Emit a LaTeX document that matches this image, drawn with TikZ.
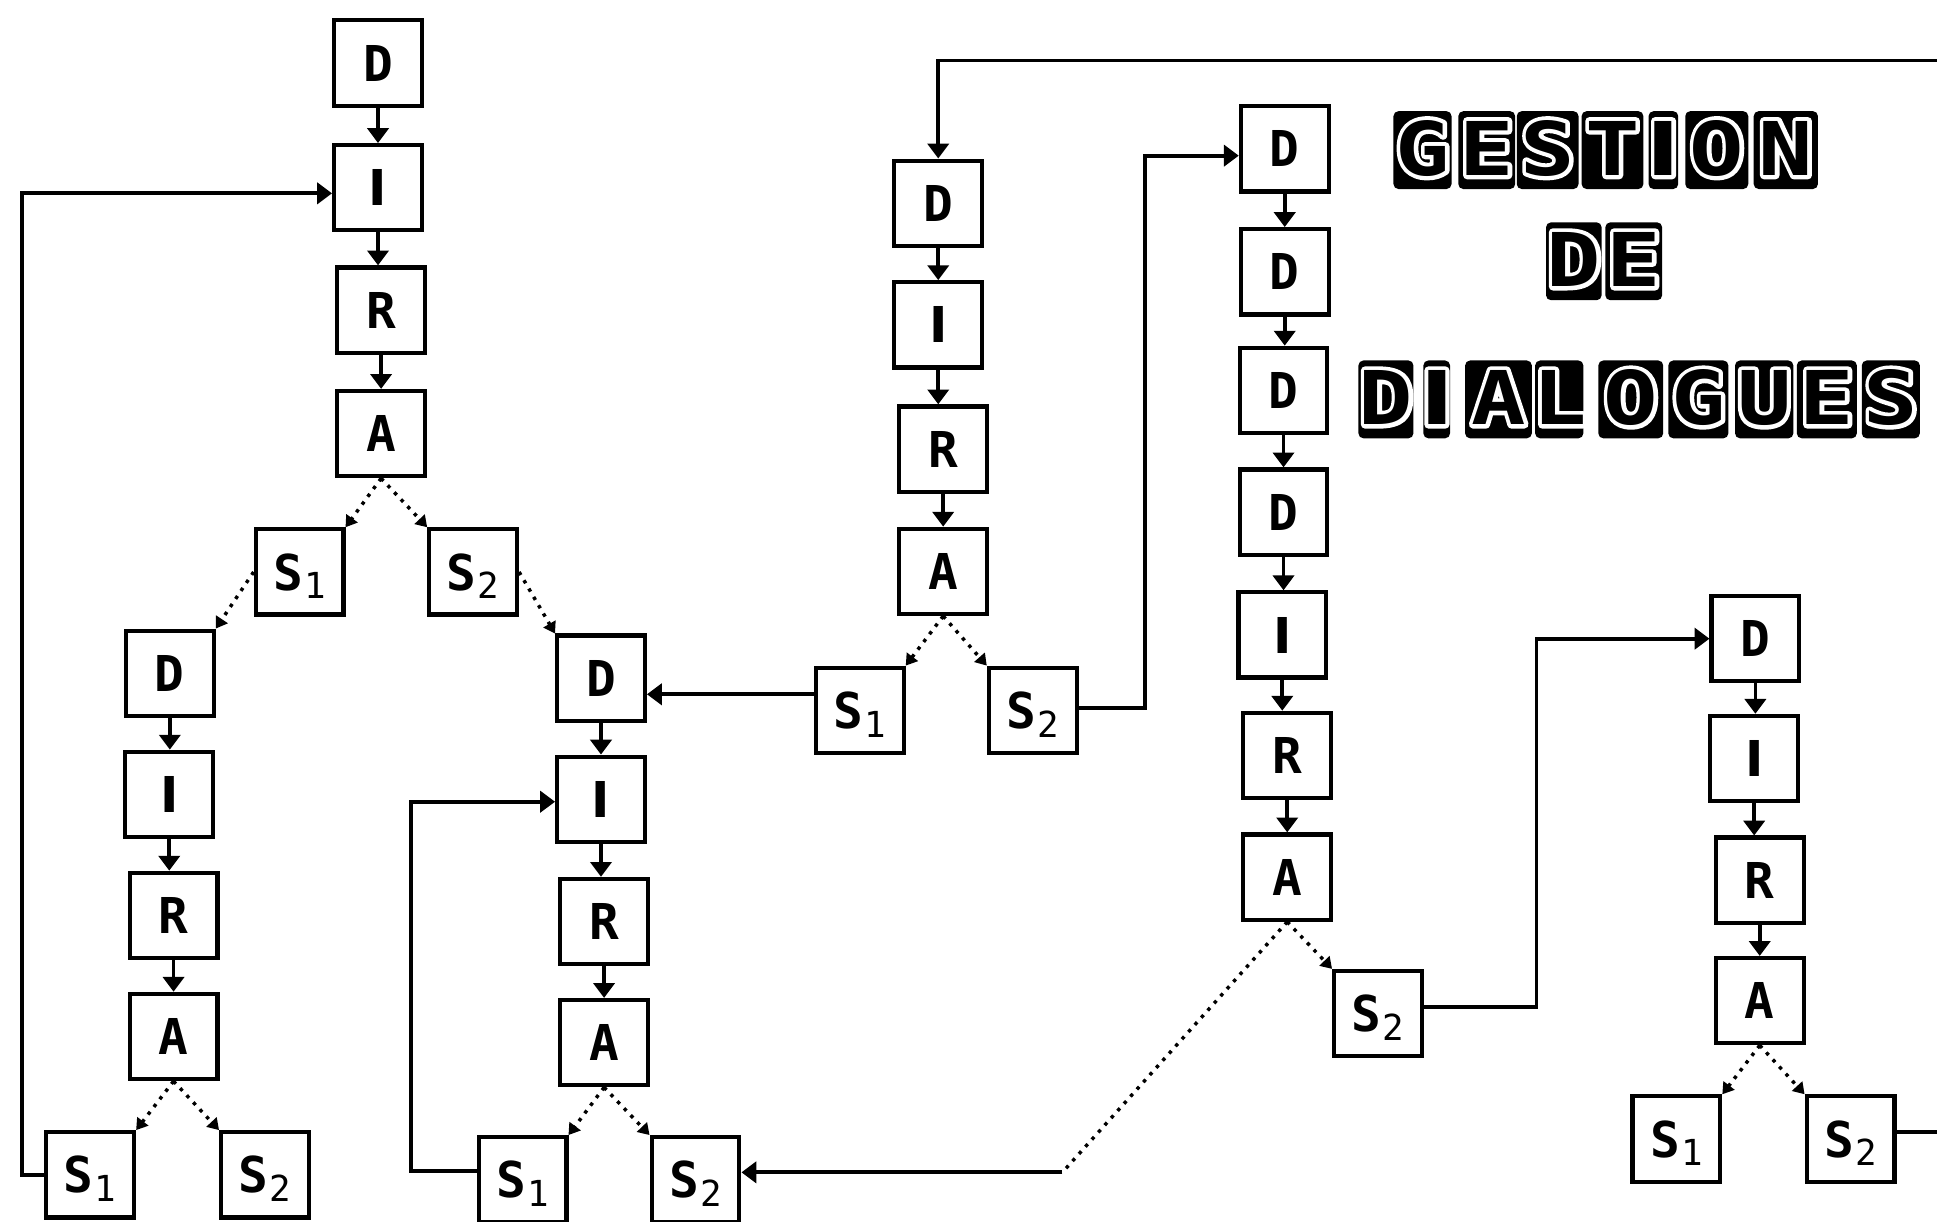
\documentclass[tikz,border=0pt]{standalone}
\usepackage{fontspec}
\usetikzlibrary{arrows.meta,calc}
\newfontfamily\lblfont{DejaVu Sans Mono}
\newfontfamily\sansbold{DejaVu Sans Bold}
\newfontfamily\ttlfont{DejaVu Sans Mono Bold}[FakeStretch=1.22]
\newfontfamily\ttlwhite{DejaVu Sans Mono Bold}[FakeStretch=1.22,FakeBold=11]
\newfontfamily\ttlIfont{DejaVu Sans Bold}[FakeStretch=1.22]
\newfontfamily\ttlIwhite{DejaVu Sans Bold}[FakeStretch=1.22,FakeBold=11]
\newcommand\Ib{{\sansbold I}}
\newcommand\lab[2]{#1\kern1pt\raisebox{-7pt}{\fontsize{29}{29}\selectfont\mdseries #2}}
\newcommand\chainto[2]{\draw[chainarr] (#1.south) -- (#1.south |- #2.north);}
\newcommand\tl[1]{\makebox[0pt][c]{#1}}
% title line: #1 name, #2 first letter centre x, #3 y, #4 centre/width list of blocks, #5 text
\newcommand\titleline[5]{%
  \foreach \cx/\w in {#4} {
    \fill[black, rounded corners=4pt]
      ({\cx-\w/2},{#3-30}) rectangle ({\cx+\w/2},{#3+33});
  }
  \coordinate (#1c) at (#2,#3);
  \def\TI{{\ttlIwhite I}}%
  \node[ttl,text=white,font={\ttlwhite\fontsize{60}{60}\selectfont}] (#1w) at (#1c) {#5};
  \def\TI{{\ttlIfont I}}%
  \node[ttl,font={\ttlfont\fontsize{60}{60}\selectfont}] (#1) at (#1c) {#5};
}
\tikzset{
  box/.style={draw, line width=3.4pt, minimum width=71pt, minimum height=69pt,
    inner sep=0pt, text height=29.2pt, text depth=0pt,
    font={\lblfont\bfseries\fontsize{40}{40}\selectfont}},
  ttl/.style={inner sep=0pt, text height=43.7pt, text depth=0pt, text=black, anchor=west},
  conn/.style={line width=3pt, -{Triangle[width=17pt,length=12pt]}},
  chainarr/.style={line width=3pt, -{Triangle[width=17pt,length=12pt]}},
  dotline/.style={line width=2.8pt, dash pattern=on 2.8pt off 5pt},
  dotarr/.style={dotline, -{Triangle[width=11pt,length=9pt]}},
}
\begin{document}
\begin{tikzpicture}[x=1pt,y=-1pt]
\useasboundingbox (0,0) rectangle (1568,989);
\fill[white] (0,0) rectangle (1568,989);

% ---------- tree 1
\node[box] (T1D) at (306,51) {D};
\node[box] (T1I) at (306,152) {\Ib};
\node[box] (T1R) at (308.5,251) {R};
\node[box] (T1A) at (308.5,351) {A};
\node[box] (T1S1) at (242.5,463) {\lab{S}{1}};
\node[box] (T1S2) at (383,463) {\lab{S}{2}};
% ---------- tree 2
\node[box] (T2D) at (137.5,545) {D};
\node[box] (T2I) at (137,643) {\Ib};
\node[box] (T2R) at (140.5,741) {R};
\node[box] (T2A) at (140.5,839) {A};
\node[box] (T2S1) at (73,951) {\lab{S}{1}};
\node[box] (T2S2) at (214.5,951) {\lab{S}{2}};
% ---------- tree 3
\node[box] (T3D) at (486.5,549) {D};
\node[box] (T3I) at (486.5,647) {\Ib};
\node[box] (T3R) at (489,746) {R};
\node[box] (T3A) at (489,844) {A};
\node[box] (T3S1) at (423,955) {\lab{S}{1}};
\node[box] (T3S2) at (563,955) {\lab{S}{2}};
% ---------- tree 5
\node[box] (T5D) at (759.5,164.5) {D};
\node[box] (T5I) at (759.5,263) {\Ib};
\node[box] (T5R) at (763.5,363.5) {R};
\node[box] (T5A) at (763.5,462.5) {A};
\node[box] (T5S1) at (696,575) {\lab{S}{1}};
\node[box] (T5S2) at (836,575) {\lab{S}{2}};
% ---------- tree 6
\node[box] (T6D1) at (1040,120.5) {D};
\node[box] (T6D2) at (1040,220) {D};
\node[box] (T6D3) at (1039,316) {D};
\node[box] (T6D4) at (1039,414.5) {D};
\node[box] (T6I) at (1038,514) {\Ib};
\node[box] (T6R) at (1042,611.5) {R};
\node[box] (T6A) at (1042,710) {A};
\node[box] (T6S2) at (1115.5,820.5) {\lab{S}{2}};
% ---------- tree 7
\node[box] (T7D) at (1421,517) {D};
\node[box] (T7I) at (1420,614) {\Ib};
\node[box] (T7R) at (1424.5,712.5) {R};
\node[box] (T7A) at (1424.5,810) {A};
\node[box] (T7S1) at (1357,922) {\lab{S}{1}};
\node[box] (T7S2) at (1498,922) {\lab{S}{2}};

% ---------- chains
\chainto{T1D}{T1I}\chainto{T1I}{T1R}\chainto{T1R}{T1A}
\chainto{T2D}{T2I}\chainto{T2I}{T2R}\chainto{T2R}{T2A}
\chainto{T3D}{T3I}\chainto{T3I}{T3R}\chainto{T3R}{T3A}
\chainto{T5D}{T5I}\chainto{T5I}{T5R}\chainto{T5R}{T5A}
\chainto{T6D1}{T6D2}\chainto{T6D2}{T6D3}\chainto{T6D3}{T6D4}
\chainto{T6D4}{T6I}\chainto{T6I}{T6R}\chainto{T6R}{T6A}
\chainto{T7D}{T7I}\chainto{T7I}{T7R}\chainto{T7R}{T7A}

% ---------- dotted branches
\foreach \t in {T1,T2,T3,T5,T7}{
  \draw[dotarr] (\t A.south) -- (\t S1.north east);
  \draw[dotarr] (\t A.south) -- (\t S2.north west);
}
\draw[dotarr] (T6A.south) -- (T6S2.north west);
\draw[dotarr] (T1S1.west) -- (T2D.north east);
\draw[dotarr] (T1S2.east) -- (T3D.north west);

% ---------- loops and links
\draw[conn] (T2S1.west) -- ++(-18,0) |- ([yshift=-4.5pt]T1I.west);
\draw[conn] ([yshift=7pt]T3S1.west) -- ++(-53,0) |- ([yshift=-2pt]T3I.west);
\coordinate (k1) at ([yshift=13pt]T5S1.west);
\draw[conn] (k1) -- (k1 -| T3D.east);
\draw[conn] ([yshift=2pt]T5S2.east) -- ++(53.5,0) |- ([yshift=-5.5pt]T6D1.west);
\coordinate (j) at (860,949);
\draw[dotline] (T6A.south) -- (j);
\draw[conn] (j) -- (j -| T3S2.east);
\draw[conn] ([yshift=5.5pt]T6S2.east) -- ++(91,0) |- (T7D.west);
\draw[conn] ([yshift=5.5pt]T7S2.east) -| (1620,49) -| (T5D.north);

% ---------- title
\begin{scope}[line join=round]
\titleline{ta}{1151.5}{120}
  {1151.5/47,1203.5/46,1252.8/50,1305.3/50,1346.5/24,1389.7/51,1445.6/52}
  {\tl{G}\hspace{52pt}\tl{E}\hspace{49.3pt}\tl{S}\hspace{52.5pt}\tl{T}\hspace{41.2pt}\tl{\TI}\hspace{43.2pt}\tl{O}\hspace{55.9pt}\tl{N}}
\titleline{tb}{1274}{210}
  {1274/45,1322.5/46}
  {\tl{D}\hspace{48.5pt}\tl{E}}
\titleline{tc}{1121.9}{321.8}
  {1121.9/44.5,1163/21.6,1213/54,1262.2/39,1320.1/52.5,1374.8/48.6,1428.1/47.2,1478.8/48.6,1530.6/47}
  {\tl{D}\hspace{41.1pt}\tl{\TI}\hspace{50pt}\tl{A}\hspace{49.2pt}\tl{L}\hspace{57.9pt}\tl{O}\hspace{54.7pt}\tl{G}\hspace{53.3pt}\tl{U}\hspace{50.7pt}\tl{E}\hspace{51.8pt}\tl{S}}
\end{scope}
\end{tikzpicture}
\end{document}
